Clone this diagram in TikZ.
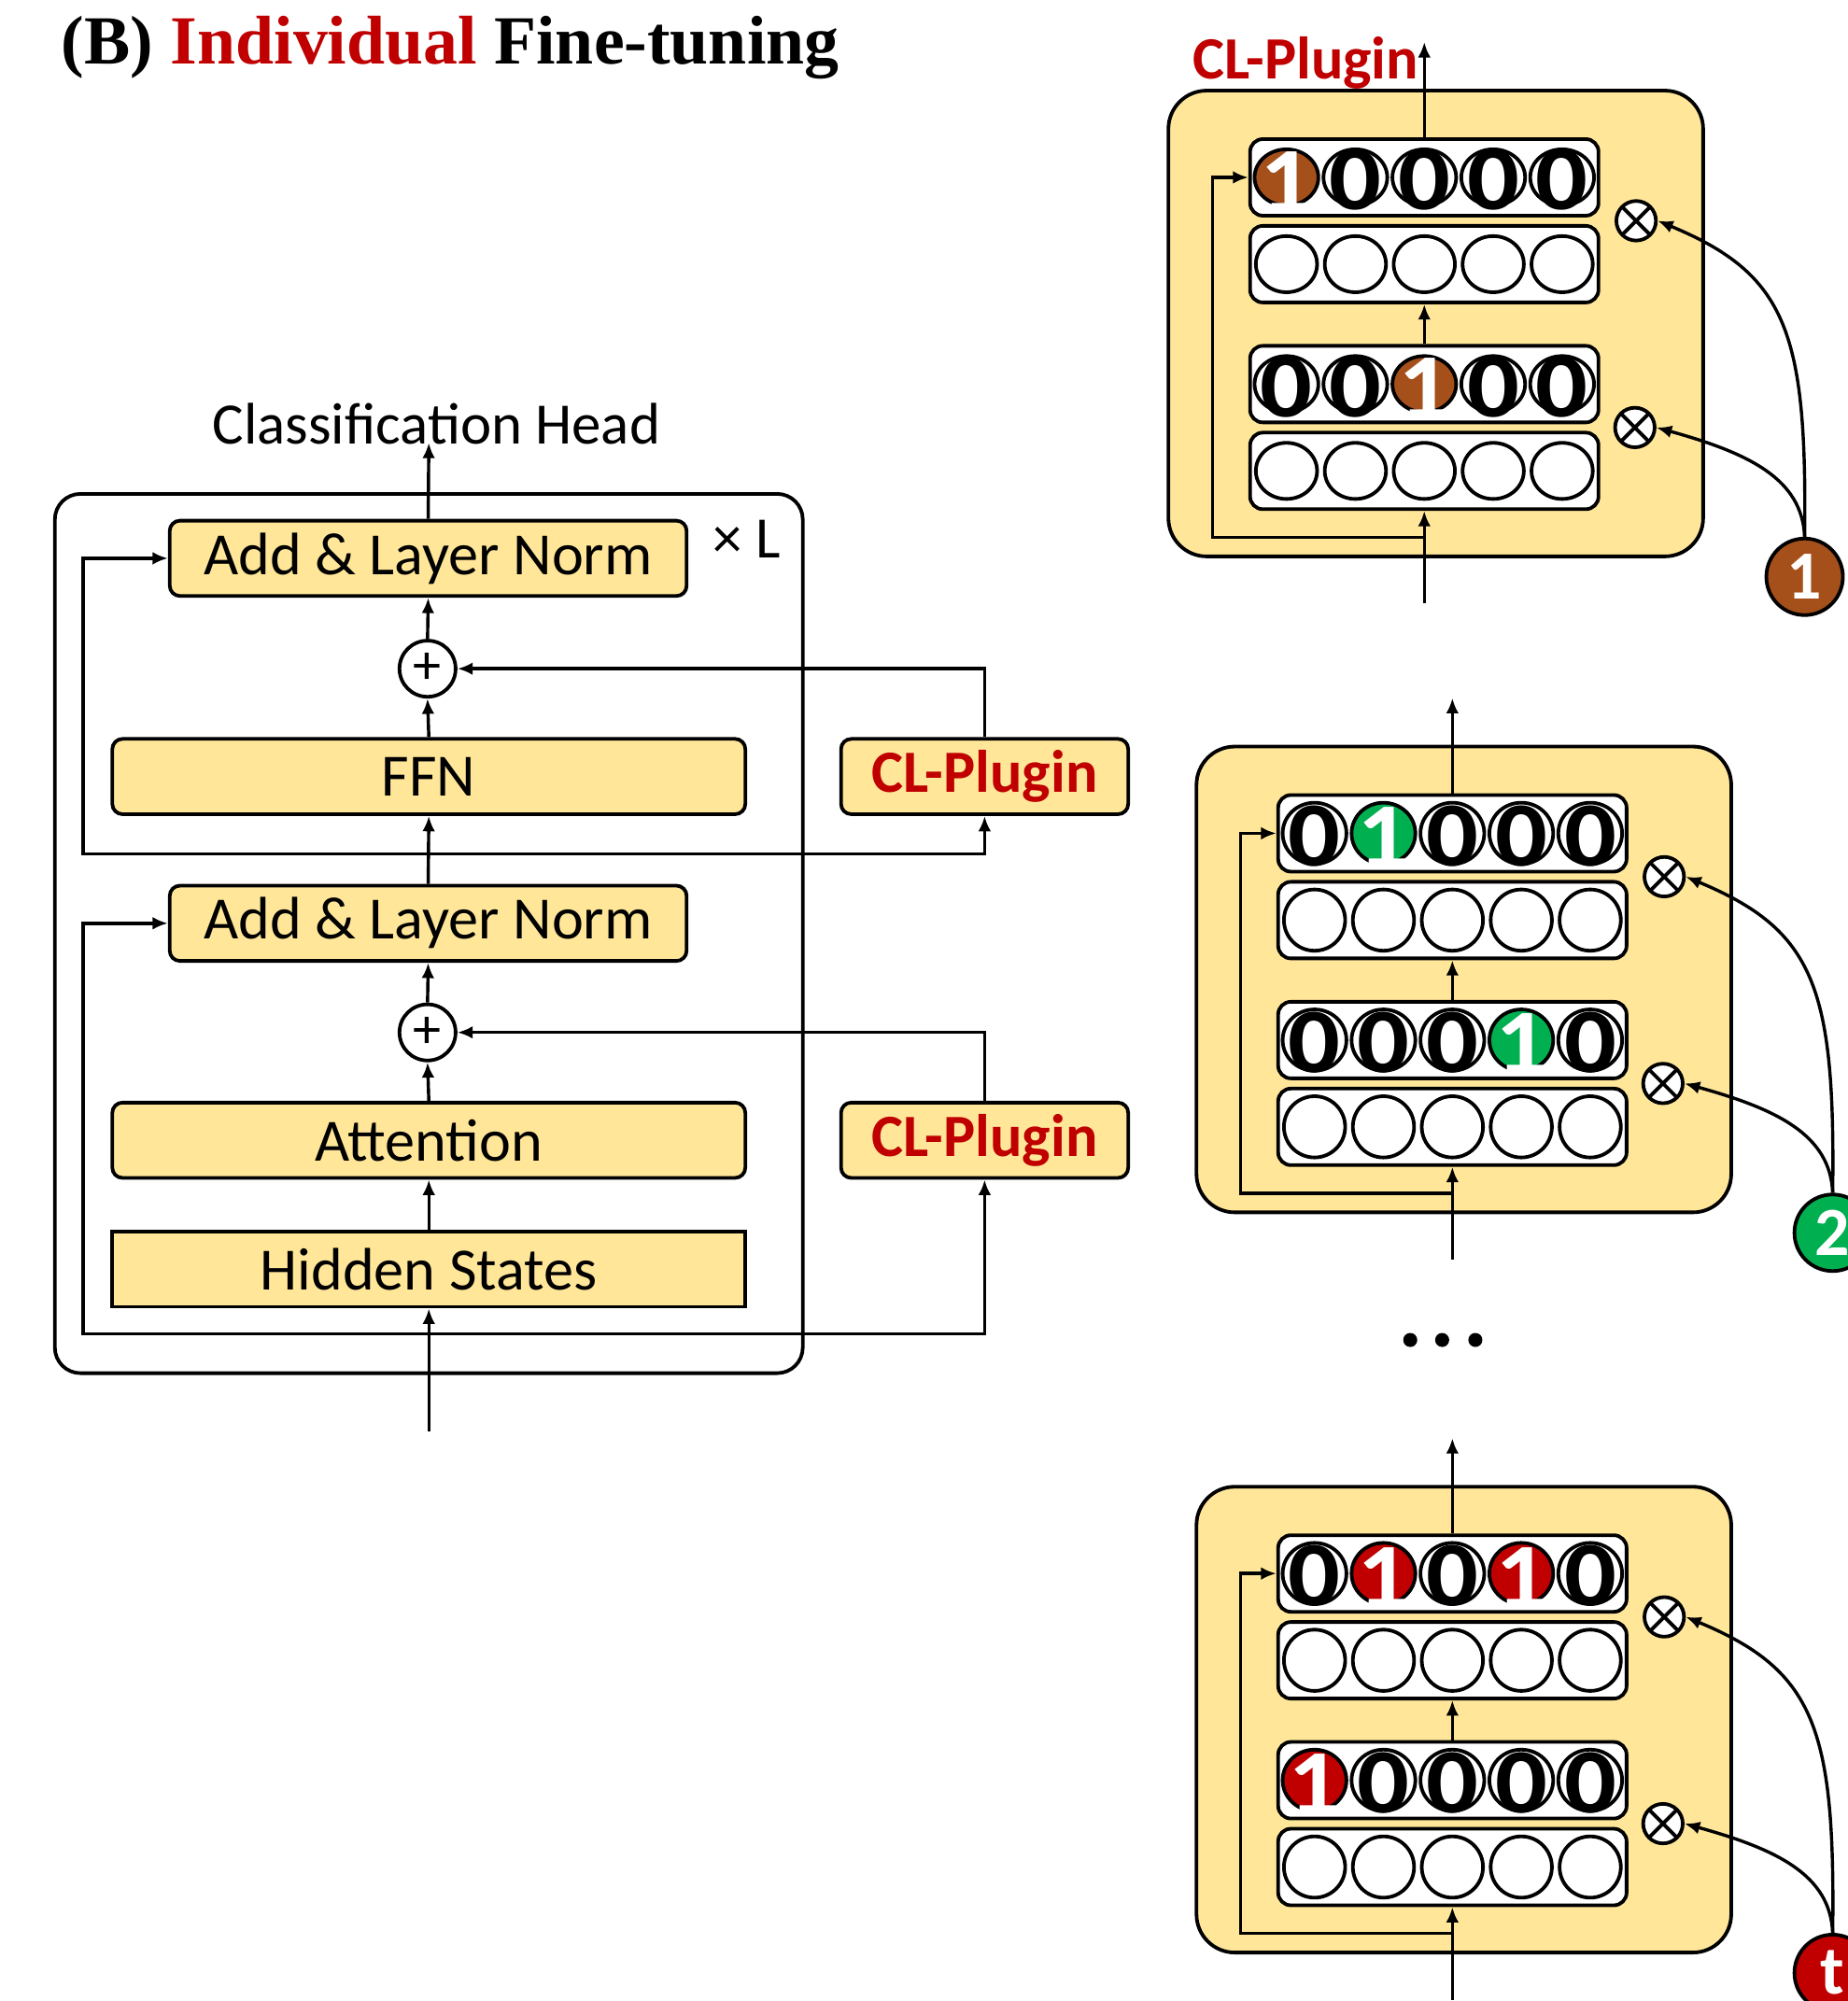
\documentclass[tikz,border=0pt]{standalone}
\usepackage{fontspec}
\setmainfont{Carlito}
\newfontfamily\titlefont{Liberation Serif}
\usetikzlibrary{arrows.meta}
\definecolor{ybg}{HTML}{FFE699}
\definecolor{cred}{HTML}{C00000}
\definecolor{cbrown}{HTML}{A5501A}
\definecolor{cgreen}{HTML}{00B050}
\tikzset{
  lw/.style={line width=2.8pt},
  arr/.style={line width=2.5pt, -{Latex[length=12pt,width=10pt]}},
  lbl/.style={font=\fontsize{46}{50}\selectfont, inner sep=0pt},
  ybox/.style={draw, lw, fill=ybg, rounded corners=8pt, minimum height=59pt, inner sep=0pt, font=\fontsize{47}{50}\selectfont},
  clbox/.style={ybox, minimum width=225pt, text=cred, font=\fontsize{47}{50}\selectfont\bfseries},
  plusnode/.style={draw, lw, circle, fill=white, minimum size=44pt, inner sep=0pt, font=\fontsize{44}{44}\selectfont},
  panelbox/.style={draw, lw, fill=ybg, rounded corners=30pt, minimum width=419pt, minimum height=365pt, inner sep=0pt},
  rowbox/.style={draw, lw, fill=white, rounded corners=10pt, minimum width=273pt, minimum height=60pt, inner sep=0pt},
  dig/.style={inner sep=0pt, xscale=1.12, font=\fontsize{72}{72}\selectfont\bfseries},
  otimes/.style={draw, lw, circle, fill=white, minimum size=31pt, inner sep=0pt,
    path picture={\draw[lw] (path picture bounding box.north west) -- (path picture bounding box.south east)
      (path picture bounding box.north east) -- (path picture bounding box.south west);}},
  task/.style={draw, lw, circle, minimum size=60pt, inner sep=0pt, text=white, font=\fontsize{54}{54}\selectfont\bfseries},
}
% #1 prefix, #2 cx, #3 top, #4 row A digits, #5 row C digits, #6 colour, #7 task label, #8 ellipse y radius
\newcommand\clpanel[8]{%
  \node[panelbox] (#1o) at ({#2+9},{#3+182.5}) {};
  \node[rowbox] (#1a) at (#2,{#3+68}) {};
  \node[rowbox] (#1b) at (#2,{#3+136}) {};
  \node[rowbox] (#1c) at (#2,{#3+230}) {};
  \node[rowbox] (#1d) at (#2,{#3+298}) {};
  \foreach \d [count=\i] in {#4} {
    \pgfmathsetmacro\xx{#2+(\i-3)*54}
    \ifnum\d=1
      \draw[lw, fill=#6] (\xx,{#3+68}) ellipse [x radius=25pt, y radius=#8 pt];
      \node[dig, text=white] (#1ad\i) at (\xx,{#3+71}) {1};
    \else
      \draw[lw, fill=white] (\xx,{#3+68}) ellipse [x radius=25pt, y radius=#8 pt];
      \node[dig] (#1ad\i) at (\xx,{#3+70}) {0};
    \fi
  }
  \foreach \d [count=\i] in {#5} {
    \pgfmathsetmacro\xx{#2+(\i-3)*54}
    \ifnum\d=1
      \draw[lw, fill=#6] (\xx,{#3+230}) ellipse [x radius=25pt, y radius=#8 pt];
      \node[dig, text=white] (#1cd\i) at (\xx,{#3+233}) {1};
    \else
      \draw[lw, fill=white] (\xx,{#3+230}) ellipse [x radius=25pt, y radius=#8 pt];
      \node[dig] (#1cd\i) at (\xx,{#3+232}) {0};
    \fi
  }
  \foreach \i in {1,...,5} {
    \pgfmathsetmacro\xx{#2+(\i-3)*54}
    \draw[lw, fill=white] (\xx,{#3+136}) ellipse [x radius=24pt, y radius=#8 pt];
    \draw[lw, fill=white] (\xx,{#3+298}) ellipse [x radius=24pt, y radius=#8 pt];
  }
  \coordinate (#1out) at (#2,{#3-38});
  \coordinate (#1in) at (#2,{#3+402});
  \coordinate (#1s) at (#2,{#3+350});
  \coordinate (#1sl) at ({#2-166},{#3+350});
  \draw[arr] (#1a.north) -- (#1out);
  \draw[arr] (#1c.north) -- (#1b.south);
  \draw[arr] (#1in) -- (#1d.south);
  \draw[arr] (#1s) -- (#1sl) |- (#1a.west);
  \node[otimes] (#1x1) at ({#2+166},{#3+102}) {};
  \node[otimes] (#1x2) at ({#2+165},{#3+264}) {};
  \node[task, fill=#6] (#1t) at ({#2+298},{#3+381}) {#7};
  \draw[arr] (#1t.north) .. controls ({#2+300},{#3+189}) and ({#2+284},{#3+144}) .. (#1x1.east);
  \draw[arr] (#1t.north) .. controls ({#2+296},{#3+304}) and ({#2+254},{#3+284}) .. (#1x2.east);
}
\begin{document}
\begin{tikzpicture}[x=1pt,y=-1pt]
\useasboundingbox (0,0) rectangle (1448,1568);
\fill[white] (0,0) rectangle (1448,1568);
\clip (0,0) rectangle (1448,1568);

% title
\node[anchor=base west, inner sep=0pt, font=\titlefont\fontsize{54}{60}\selectfont\bfseries] (title) at (48,50)
  {(B) \textcolor{cred}{Individual} Fine-tuning};

% left: transformer layer
\node[draw, lw, rounded corners=20pt, minimum width=586pt, minimum height=689pt, inner sep=0pt] (layer) at (336,731.5) {};
\node[lbl, anchor=base] (head) at (342,348) {Classification Head};
\node[lbl, anchor=base] (times) at (585,437) {× L};
\node[ybox, minimum width=405pt] (aln2) at (335.5,437.5) {Add \& Layer Norm};
\node[plusnode] (plus2) at (335,524) {+};
\node[ybox, minimum width=496pt] (ffn) at (336,608.5) {FFN};
\node[clbox] (clp2) at (771.5,608.5) {CL-Plugin};
\node[ybox, minimum width=405pt] (aln1) at (335.5,723.5) {Add \& Layer Norm};
\node[plusnode] (plus1) at (335,809) {+};
\node[ybox, minimum width=496pt] (att) at (336,893.5) {Attention};
\node[clbox] (clp1) at (771.5,893.5) {CL-Plugin};
\node[ybox, rounded corners=0pt, minimum width=496pt] (hid) at (336,994.5) {Hidden States};

\coordinate (L) at (65,0);
\coordinate (s2) at (336,669);
\coordinate (s1) at (336,1045);
\coordinate (inL) at (336,1122);
\coordinate (headin) at (336,347);

\draw[arr] (aln2.north) -- (headin);
\draw[arr] (plus2.north) -- (aln2.south);
\draw[arr] (ffn.north) -- (plus2.south);
\draw[arr] (aln1.north) -- (ffn.south);
\draw[arr] (s2) -- (s2 -| L) |- (aln2.west);
\draw[arr] (s2) -| (clp2.south);
\draw[arr] (clp2.north) |- (plus2.east);
\draw[arr] (plus1.north) -- (aln1.south);
\draw[arr] (att.north) -- (plus1.south);
\draw[arr] (hid.north) -- (att.south);
\draw[arr] (inL) -- (hid.south);
\draw[arr] (s1) -- (s1 -| L) |- (aln1.west);
\draw[arr] (s1) -| (clp1.south);
\draw[arr] (clp1.north) |- (plus1.east);

% right: CL-Plugin panels
\clpanel{p}{1116}{71}{1,0,0,0,0}{0,0,1,0,0}{cbrown}{1}{22}
\node[anchor=base, inner sep=0pt, text=cred, font=\fontsize{47}{50}\selectfont\bfseries] (plabel) at (1023,62) {CL-Plugin};
\clpanel{q}{1138}{585}{0,1,0,0,0}{0,0,0,1,0}{cgreen}{2}{24}
\clpanel{r}{1138}{1165}{0,1,0,1,0}{1,0,0,0,0}{cred}{t}{24}

% dots
\fill (1105,1050) circle (5.5pt) (1130,1050) circle (5.5pt) (1156,1050) circle (5.5pt);
\end{tikzpicture}
\end{document}
